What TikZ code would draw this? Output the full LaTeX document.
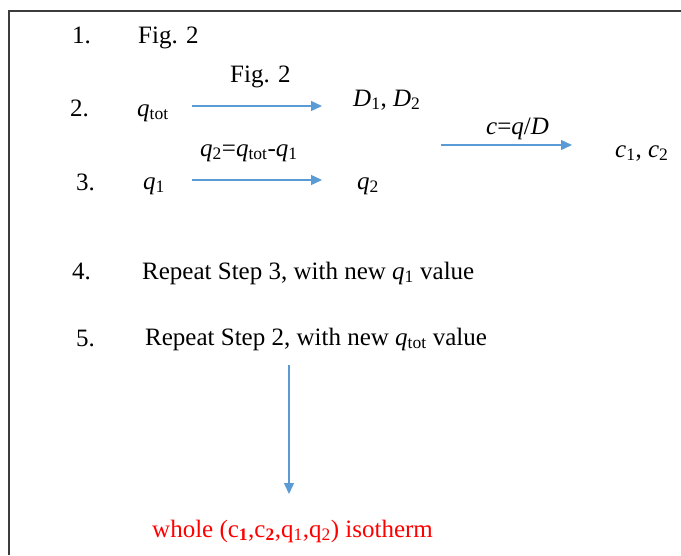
\documentclass[tikz,border=0pt]{standalone}
\usepackage{amsmath}
\usepackage{fontspec}
\setmainfont{Liberation Serif}
\usetikzlibrary{arrows.meta}
\definecolor{arrowblue}{RGB}{91,155,213}
\definecolor{framegray}{RGB}{60,60,60}
\newcommand\qi{\textit{q}}
\newcommand\sbt[1]{$_{\text{#1}}$}
\tikzset{
  txt/.style={anchor=base west, inner sep=0pt, font=\fontsize{25}{29}\selectfont},
  flow/.style={draw=arrowblue, line width=1.4pt, -{Triangle[length=11pt,width=10pt]}},
  frame/.style={draw=framegray, line width=1.5pt}
}
\begin{document}
\begin{tikzpicture}[x=1pt,y=-1pt]
\useasboundingbox (0,0) rectangle (681,555);
\draw[frame] (9,555) -- (9,11) -- (681,11);
% row 1
\node[txt] (n1) at (72,43) {1.};
\node[txt] (fig1) at (138,43) {Fig. 2};
% row 2
\node[txt] (figlab) at (230,82) {Fig. 2};
\node[txt] (n2) at (70,116) {2.};
\node[txt] (qtot) at (137,116) {\qi\sbt{tot}};
\node[txt] (D) at (353,106) {\textit{D}\sbt{1}, \textit{D}\sbt{2}};
\coordinate (a2s) at (192,106);
\coordinate (a2e) at (322,106);
\draw[flow] (a2s) -- (a2e);
% c = q/D
\node[txt] (clab) at (486,134) {\textit{c}=\textit{q}/\textit{D}};
\node[txt] (c12) at (615,157) {\textit{c}\sbt{1}, \textit{c}\sbt{2}};
\coordinate (acs) at (441,145);
\coordinate (ace) at (572,145);
\draw[flow] (acs) -- (ace);
% row 3
\node[txt] (qlab) at (200,156) {\qi\sbt{2}=\qi\sbt{tot}-\qi\sbt{1}};
\node[txt] (n3) at (76,190) {3.};
\node[txt] (q1) at (143,189) {\qi\sbt{1}};
\node[txt] (q2) at (357,189) {\qi\sbt{2}};
\coordinate (a3s) at (192,180);
\coordinate (a3e) at (322,180);
\draw[flow] (a3s) -- (a3e);
% row 4, 5
\node[txt] (n4) at (72,279) {4.};
\node[txt] (r4) at (142,279) {Repeat Step 3, with new \qi\sbt{1} value};
\node[txt] (n5) at (76,346) {5.};
\node[txt] (r5) at (145,345) {Repeat Step 2, with new \qi\sbt{tot} value};
\coordinate (vs) at (289,365);
\coordinate (ve) at (289,494);
\draw[flow] (vs) -- (ve);
\node[txt, text=red] (res) at (152,537) {whole (c$_{\textbf{1}}$,c$_{\textbf{2}}$,q\sbt{1},q\sbt{2}) isotherm};
\end{tikzpicture}
\end{document}
